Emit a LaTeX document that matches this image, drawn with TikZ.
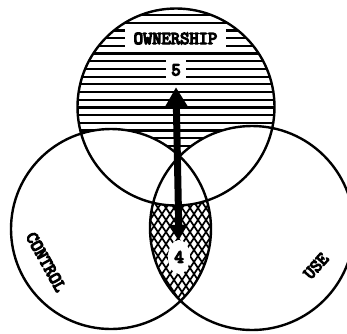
\documentclass[tikz,border=0pt]{standalone}
\usepackage{fontspec}
\newfontfamily\labelfont{Latin Modern Mono}
\newcommand\heavytext[1]{\special{pdf:literal direct 2 Tr 1.3 w}#1\special{pdf:literal direct 0 Tr}}
\usetikzlibrary{arrows.meta,shapes.geometric}
\begin{document}
\begin{tikzpicture}[x=1pt,y=-1pt,
  outline/.style={line width=2.4pt},
  hatchline/.style={line width=2.2pt},
  xhatch/.style={line width=1.7pt},
  lbl/.style={font=\labelfont\fontsize{18}{20}\selectfont, inner sep=0pt},
  bigarrow/.style={line width=7pt, {Triangle[width=16pt,length=15pt]}-{Triangle[width=22pt,length=20pt]}}
]
\useasboundingbox (0,0) rectangle (347,333);
\coordinate (T) at (176,107);
\coordinate (L) at (111,229);
\coordinate (R) at (252,228);
% horizontal hatching of the ownership circle
\begin{scope}
  \clip (T) circle[radius=98.5pt];
  \foreach \k in {0,...,25} {\draw[hatchline] (70,{15+7.7*\k}) -- (290,{15+7.7*\k});}
\end{scope}
\fill[white] (L) circle[radius=100pt] (R) circle[radius=102pt];
% cross hatching of control and use
\begin{scope}
  \clip (L) circle[radius=100pt];
  \clip (R) circle[radius=102pt];
  \foreach \i in {-17,...,17} {
    \draw[xhatch] ({178+8*\i-80},130) -- ({178+8*\i+80},370);
    \draw[xhatch] ({178+8*\i+80},130) -- ({178+8*\i-80},370);
  }
\end{scope}
\begin{scope}
  \clip (T) circle[radius=98.5pt];
  \clip (L) circle[radius=100pt];
  \fill[white] (R) circle[radius=102pt];
\end{scope}
\draw[outline] (T) circle[radius=98.5pt] (L) circle[radius=100pt] (R) circle[radius=102pt];
\node[lbl, fill=white, minimum width=101pt, minimum height=25pt] (own) at (175.5,38.5) {\heavytext{OWNERSHIP}};
\node[lbl, fill=white, minimum width=20pt, minimum height=26pt] (n5) at (176,70) {\heavytext{5}};
\node[lbl, ellipse, fill=white, minimum width=22pt, minimum height=34pt] (n4) at (179,257) {\heavytext{4}};
\draw[bigarrow] (n4.north) -- ([yshift=-4pt]n5.south);
\node[lbl, rotate=-61] (ctl) at (46,262) {\heavytext{CONTROL}};
\node[lbl, rotate=48] (use) at (316,266) {\heavytext{USE}};
\end{tikzpicture}
\end{document}
